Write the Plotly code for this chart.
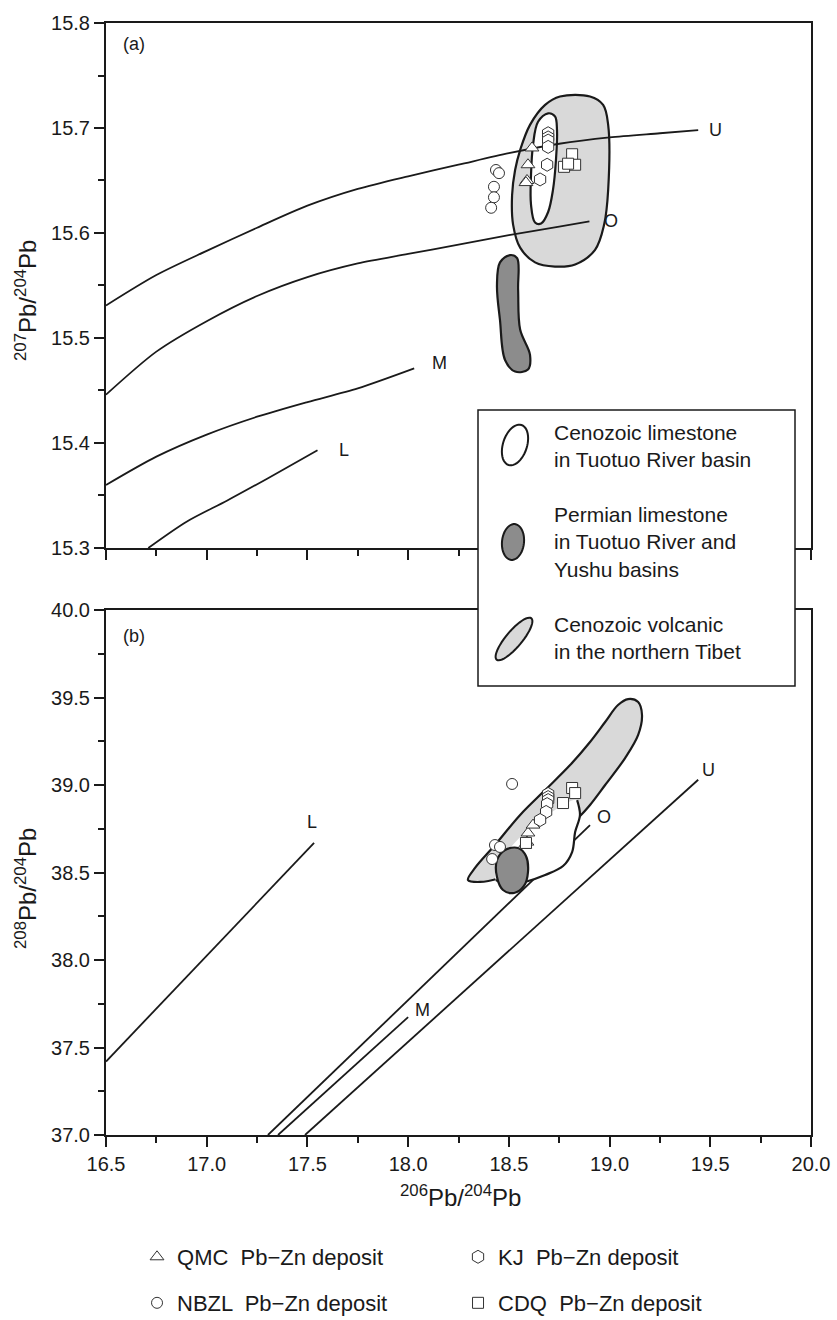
import numpy as np
import plotly.graph_objects as go

FONT = "Liberation Sans, Arial, sans-serif"
INK = "#1a1a1a"

# ---------------- panel (a): 207Pb/204Pb vs 206Pb/204Pb ----------------
# growth curves: U upper crust, O orogene, M mantle, L lower crust
U_a_x = [16.50, 16.75, 17.00, 17.25, 17.50, 17.75, 18.00, 18.25, 18.50, 18.75, 19.00, 19.25, 19.44]
U_a_y = [15.531, 15.560, 15.583, 15.605, 15.626, 15.642, 15.654, 15.665, 15.676, 15.685, 15.691, 15.695, 15.698]
O_a_x = [16.50, 16.75, 17.00, 17.25, 17.50, 17.75, 18.00, 18.25, 18.50, 18.75, 18.90]
O_a_y = [15.446, 15.487, 15.516, 15.540, 15.558, 15.571, 15.580, 15.589, 15.598, 15.606, 15.611]
M_a_x = [16.50, 16.75, 17.00, 17.25, 17.50, 17.75, 18.03]
M_a_y = [15.360, 15.387, 15.408, 15.425, 15.439, 15.452, 15.471]
L_a_x = [16.71, 16.90, 17.10, 17.30, 17.55]
L_a_y = [15.300, 15.325, 15.345, 15.366, 15.393]

# fields
volc_a_x = [18.556, 18.605, 18.680, 18.754, 18.903, 18.968, 18.993, 18.993, 18.973, 18.928,
            18.829, 18.729, 18.630, 18.556, 18.521, 18.516, 18.531]
volc_a_y = [15.679, 15.703, 15.722, 15.730, 15.730, 15.722, 15.703, 15.641, 15.608, 15.584,
            15.570, 15.568, 15.572, 15.586, 15.608, 15.636, 15.660]
cenls_a_x = [18.695, 18.729, 18.739, 18.734, 18.719, 18.695, 18.660, 18.630, 18.610, 18.610, 18.620, 18.645]
cenls_a_y = [15.714, 15.711, 15.698, 15.670, 15.641, 15.620, 15.609, 15.610, 15.627, 15.655, 15.684, 15.706]
perm_a_x = [18.456, 18.506, 18.541, 18.546, 18.556, 18.605, 18.595, 18.531, 18.481, 18.456, 18.441]
perm_a_y = [15.572, 15.579, 15.576, 15.546, 15.508, 15.484, 15.470, 15.468, 15.479, 15.517, 15.550]

# deposits
qmc_a_x = [18.615, 18.595, 18.590, 18.585]
qmc_a_y = [15.681, 15.665, 15.650, 15.648]
kj_a_x = [18.695, 18.695, 18.695, 18.695, 18.690, 18.655]
kj_a_y = [15.695, 15.691, 15.688, 15.682, 15.665, 15.651]
nbzl_a_x = [18.436, 18.451, 18.426, 18.426, 18.412]
nbzl_a_y = [15.660, 15.657, 15.644, 15.634, 15.624]
cdq_a_x = [18.814, 18.829, 18.774, 18.794]
cdq_a_y = [15.675, 15.665, 15.663, 15.666]

# ---------------- panel (b): 208Pb/204Pb vs 206Pb/204Pb ----------------
L_b_x = [16.50, 17.533]
L_b_y = [37.42, 38.669]
M_b_x = [17.354, 18.00]
M_b_y = [37.00, 37.674]
O_b_x = [17.304, 18.903]
O_b_y = [37.00, 38.771]
U_b_x = [17.488, 19.44]
U_b_y = [37.00, 39.03]

volc_b_x = [18.297, 18.332, 18.431, 18.556, 18.680, 18.804, 18.903, 18.978, 19.042, 19.092, 19.142,
            19.161, 19.142, 19.077, 18.978, 18.903, 18.844, 18.754, 18.655, 18.556, 18.456, 18.357]
volc_b_y = [38.457, 38.526, 38.657, 38.829, 38.971, 39.114, 39.246, 39.360, 39.457, 39.491, 39.474,
            39.400, 39.286, 39.154, 39.000, 38.886, 38.811, 38.714, 38.600, 38.514, 38.469, 38.446]
cenls_b_x = [18.839, 18.853, 18.829, 18.814, 18.769, 18.680, 18.580, 18.496, 18.436,
             18.441, 18.506, 18.605, 18.729]
cenls_b_y = [38.914, 38.829, 38.731, 38.617, 38.537, 38.486, 38.446, 38.429, 38.457,
             38.537, 38.640, 38.754, 38.857]
perm_b_x = [18.481, 18.546, 18.585, 18.595, 18.575, 18.526, 18.471, 18.441, 18.441]
perm_b_y = [38.629, 38.640, 38.594, 38.503, 38.423, 38.383, 38.400, 38.474, 38.571]

qmc_b_x = [18.580, 18.590, 18.595, 18.620]
qmc_b_y = [38.657, 38.674, 38.726, 38.771]
kj_b_x = [18.695, 18.695, 18.695, 18.690, 18.685, 18.655]
kj_b_y = [38.949, 38.931, 38.914, 38.891, 38.846, 38.800]
nbzl_b_x = [18.516, 18.431, 18.456, 18.417]
nbzl_b_y = [39.006, 38.657, 38.646, 38.577]
cdq_b_x = [18.814, 18.829, 18.769, 18.585]
cdq_b_y = [38.983, 38.954, 38.897, 38.669]

x_ticks = [16.5, 17.0, 17.5, 18.0, 18.5, 19.0, 19.5, 20.0]

fig = go.Figure()


def field(x, y, fill, xa, ya, outline=True):
    fig.add_trace(go.Scatter(
        x=x + x[:1], y=y + y[:1], xaxis=xa, yaxis=ya, mode="lines",
        fill="toself", fillcolor=fill,
        line=dict(color=INK if outline else "rgba(0,0,0,0)", width=2.2, shape="spline", smoothing=1.0),
        hoverinfo="skip", showlegend=False))


def curve(x, y, xa, ya):
    fig.add_trace(go.Scatter(
        x=x, y=y, xaxis=xa, yaxis=ya, mode="lines",
        line=dict(color=INK, width=1.8, shape="spline", smoothing=0.8),
        hoverinfo="skip", showlegend=False))


# panel (a)
field(volc_a_x, volc_a_y, "#d9d9d9", "x", "y")
field(cenls_a_x, cenls_a_y, "#ffffff", "x", "y")
field(perm_a_x, perm_a_y, "#8c8c8c", "x", "y")
for cx, cy in [(U_a_x, U_a_y), (O_a_x, O_a_y), (M_a_x, M_a_y), (L_a_x, L_a_y)]:
    curve(cx, cy, "x", "y")

# panel (b)
for cx, cy in [(L_b_x, L_b_y), (M_b_x, M_b_y), (O_b_x, O_b_y), (U_b_x, U_b_y)]:
    curve(cx, cy, "x2", "y2")
field(volc_b_x, volc_b_y, "#d9d9d9", "x2", "y2")
field(cenls_b_x, cenls_b_y, "#ffffff", "x2", "y2", outline=False)
# exposed rim of the limestone field (its upper edge lies inside the volcanic field)
fig.add_trace(go.Scatter(
    x=cenls_b_x[:9], y=cenls_b_y[:9], xaxis="x2", yaxis="y2", mode="lines",
    line=dict(color=INK, width=2.2, shape="spline", smoothing=1.0),
    hoverinfo="skip", showlegend=False))
field(perm_b_x, perm_b_y, "#8c8c8c", "x2", "y2")

deposits = [
    ("QMC  Pb\u2212Zn deposit", "triangle-up", 12, qmc_a_x, qmc_a_y, qmc_b_x, qmc_b_y, "legend"),
    ("KJ  Pb\u2212Zn deposit", "hexagon", 13, kj_a_x, kj_a_y, kj_b_x, kj_b_y, "legend"),
    ("NBZL  Pb\u2212Zn deposit", "circle", 11, nbzl_a_x, nbzl_a_y, nbzl_b_x, nbzl_b_y, "legend2"),
    ("CDQ  Pb\u2212Zn deposit", "square", 11, cdq_a_x, cdq_a_y, cdq_b_x, cdq_b_y, "legend2"),
]
for name, sym, size, ax_, ay_, bx_, by_, lg in deposits:
    mk = dict(symbol=sym, size=size, color="white", line=dict(color="#333333", width=1))
    fig.add_trace(go.Scatter(x=ax_, y=ay_, xaxis="x", yaxis="y", mode="markers", marker=mk,
                             name=name, legendgroup=name, legend=lg, showlegend=True))
    fig.add_trace(go.Scatter(x=bx_, y=by_, xaxis="x2", yaxis="y2", mode="markers", marker=mk,
                             name=name, legendgroup=name, legend=lg, showlegend=False))

# ---------------- axes ----------------
common = dict(showline=True, linewidth=2, linecolor=INK, mirror=True, showgrid=False, zeroline=False,
              ticks="outside", ticklen=10, tickwidth=1.8, tickcolor=INK,
              tickfont=dict(family=FONT, size=20, color=INK))
legend_common = dict(xanchor="left", yanchor="middle", orientation="h",
                     entrywidth=276, entrywidthmode="pixels", bgcolor="rgba(0,0,0,0)",
                     font=dict(family=FONT, size=22, color=INK))
fig.update_layout(
    width=837, height=1320,
    margin=dict(l=106, r=26, t=23, b=185, autoexpand=False),
    paper_bgcolor="white", plot_bgcolor="white",
    font=dict(family=FONT, color=INK),
    xaxis=dict(domain=[0, 1], range=[16.5, 20.0], anchor="y", tickvals=x_ticks, showticklabels=False,
               minor=dict(dtick=0.25, tick0=16.5, ticks="outside", ticklen=6, tickwidth=1.5, tickcolor=INK),
               **common),
    yaxis=dict(domain=[0.5279, 1], range=[15.3, 15.8], anchor="x", tick0=15.3, dtick=0.1, tickformat=".1f",
               minor=dict(dtick=0.05, tick0=15.3, ticks="outside", ticklen=6, tickwidth=1.5, tickcolor=INK),
               **common),
    xaxis2=dict(domain=[0, 1], range=[16.5, 20.0], anchor="y2", tickvals=x_ticks,
                ticktext=[f"{v:.1f}" for v in x_ticks],
                minor=dict(dtick=0.25, tick0=16.5, ticks="outside", ticklen=6, tickwidth=1.5, tickcolor=INK),
                **common),
    yaxis2=dict(domain=[0, 0.4721], range=[37.0, 40.0], anchor="x2", tick0=37.0, dtick=0.5, tickformat=".1f",
                minor=dict(dtick=0.25, tick0=37.0, ticks="outside", ticklen=6, tickwidth=1.5, tickcolor=INK),
                **common),
    legend=dict(x=0.044, y=-0.1097, **legend_common),
    legend2=dict(x=0.044, y=-0.1511, **legend_common),
)

ann = []


def text(x, y, s, size, xref="paper", yref="paper", angle=0, xanchor="center", **kw):
    ann.append(dict(x=x, y=y, xref=xref, yref=yref, text=s, showarrow=False, textangle=angle,
                    xanchor=xanchor, yanchor="middle", font=dict(family=FONT, size=size, color=INK), **kw))


# axis titles
text(-0.1135, 0.7509, "<sup>207</sup>Pb/<sup>204</sup>Pb", 24, angle=-90)
text(-0.1135, 0.2221, "<sup>208</sup>Pb/<sup>204</sup>Pb", 24, angle=-90)
text(0.5035, -0.0549, "<sup>206</sup>Pb/<sup>204</sup>Pb", 24)
# panel tags
text(0.0397, 0.9811, "(a)", 18)
text(0.0397, 0.4487, "(b)", 18)

# curve labels next to each curve end
for lab, cx, cy, dx, dy, xa, ya in [
        ("U", U_a_x, U_a_y, 17, 0, "x", "y"), ("O", O_a_x, O_a_y, 22, 0, "x", "y"),
        ("M", M_a_x, M_a_y, 25, 5, "x", "y"), ("L", L_a_x, L_a_y, 26, 0, "x", "y"),
        ("L", L_b_x, L_b_y, -2, 21, "x2", "y2"), ("M", M_b_x, M_b_y, 14, 7, "x2", "y2"),
        ("O", O_b_x, O_b_y, 14, 8, "x2", "y2"), ("U", U_b_x, U_b_y, 10, 10, "x2", "y2")]:
    text(cx[-1], cy[-1], lab, 18, xref=xa, yref=ya, xshift=dx, yshift=dy)


# ---------------- in-plot key for the fields ----------------
def P(xp, yp):
    return (xp - 106) / 705.0, (1135 - yp) / 1112.0


def path_from(pts):
    s = ""
    for i, (a, b) in enumerate(pts):
        u, v = P(a, b)
        s += ("M" if i == 0 else "L") + f"{u:.5f},{v:.5f} "
    return s + "Z"


def ellipse(cx, cy, rx, ry, rot_deg, n=48):
    t = np.linspace(0, 2 * np.pi, n, endpoint=False)
    r = np.deg2rad(rot_deg)
    ex, ey = rx * np.cos(t), ry * np.sin(t)
    return list(zip(cx + ex * np.cos(r) - ey * np.sin(r), cy + ex * np.sin(r) + ey * np.cos(r)))


bx0, by0 = P(478, 686)
bx1, by1 = P(795, 410)
shapes = [dict(type="rect", xref="paper", yref="paper", x0=bx0, y0=by0, x1=bx1, y1=by1,
               line=dict(color=INK, width=1.5), fillcolor="white", layer="above")]
shapes.append(dict(type="path", xref="paper", yref="paper", path=path_from(ellipse(515, 445, 12, 21, 18)),
                   line=dict(color=INK, width=2), fillcolor="white", layer="above"))
shapes.append(dict(type="path", xref="paper", yref="paper", path=path_from(ellipse(513, 542, 11, 18, 6)),
                   line=dict(color=INK, width=2), fillcolor="#8c8c8c", layer="above"))
shapes.append(dict(type="path", xref="paper", yref="paper", path=path_from(ellipse(514, 639, 27, 8, -50)),
                   line=dict(color=INK, width=2), fillcolor="#d9d9d9", layer="above"))
fig.update_layout(shapes=shapes)

# key texts, one wrapped block per field
kx, _ = P(552, 0)
for block, yp in [("Cenozoic limestone<br>in Tuotuo River basin", 446),
                  ("Permian limestone<br>in Tuotuo River and<br>Yushu basins", 542),
                  ("Cenozoic volcanic<br>in the northern Tibet", 638)]:
    text(kx, P(0, yp)[1], block, 21, xanchor="left", align="left")

fig.update_layout(annotations=ann)
fig.write_html("out.html")
